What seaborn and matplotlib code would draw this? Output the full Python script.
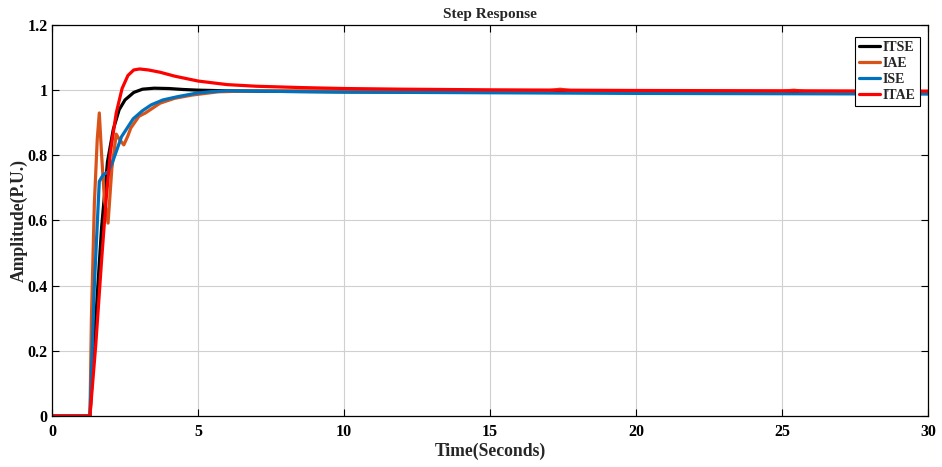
import pandas as pd
import seaborn as sns
import matplotlib.pyplot as plt

# --- Step response data ---
methods = ["ITSE", "IAE", "ISE", "ITAE"]
colors = ["#000000", "#D95319", "#0072BD", "#FF0000"]

t_itse = [0, 1.3, 1.5, 1.7, 1.9, 2.1, 2.3, 2.5, 2.8, 3.1, 3.5, 4.0, 4.5, 5.0, 6.0, 8, 10, 15, 20, 25, 30]
y_itse = [0, 0, 0.30, 0.58, 0.78, 0.88, 0.94, 0.97, 0.993, 1.003, 1.006, 1.005, 1.002, 1.0, 0.998,
          0.996, 0.995, 0.994, 0.993, 0.993, 0.993]

t_iae = [0, 1.3, 1.35, 1.45, 1.55, 1.62, 1.70, 1.80, 1.92, 2.05, 2.2, 2.3, 2.46, 2.6, 2.7, 2.98, 3.2,
         3.7, 4.2, 4.8, 5.7, 7, 10, 15, 17.0, 17.4, 17.8, 20, 25, 25.4, 25.8, 30]
y_iae = [0, 0, 0.30, 0.65, 0.85, 0.93, 0.80, 0.66, 0.592, 0.76, 0.865, 0.85, 0.832, 0.86, 0.884, 0.92,
         0.93, 0.96, 0.975, 0.985, 0.995, 0.998, 0.998, 0.998, 0.998, 1.003, 0.998, 0.997, 0.996, 1.0,
         0.996, 0.995]

t_ise = [0, 1.3, 1.45, 1.62, 1.75, 1.93, 2.1, 2.38, 2.78, 3.1, 3.4, 3.8, 4.3, 4.9, 5.4, 6.0, 8, 10,
         15, 20, 25, 30]
y_ise = [0, 0, 0.40, 0.72, 0.74, 0.75, 0.786, 0.857, 0.912, 0.937, 0.955, 0.97, 0.98, 0.99, 0.995,
         0.998, 0.996, 0.994, 0.992, 0.99, 0.989, 0.988]

t_itae = [0, 1.3, 1.5, 1.7, 1.85, 2.0, 2.2, 2.4, 2.6, 2.8, 3.0, 3.3, 3.7, 4.2, 5.0, 6.0, 7.0, 8.5, 10,
          12, 15, 20, 25, 30]
y_itae = [0, 0, 0.22, 0.48, 0.66, 0.81, 0.93, 1.005, 1.045, 1.062, 1.065, 1.062, 1.055, 1.043, 1.028,
          1.017, 1.012, 1.008, 1.005, 1.003, 1.001, 0.999, 0.998, 0.997]

x_ticks = [0, 5, 10, 15, 20, 25, 30]
y_ticks = [0, 0.2, 0.4, 0.6, 0.8, 1.0, 1.2]
y_tick_labels = ["0", "0.2", "0.4", "0.6", "0.8", "1", "1.2"]

# long-form table for seaborn
frames = []
for name, t, y in zip(methods, [t_itse, t_iae, t_ise, t_itae], [y_itse, y_iae, y_ise, y_itae]):
    frames.append(pd.DataFrame({"t": t, "amp": y, "method": name}))
df = pd.concat(frames, ignore_index=True)

sns.set_style("ticks")
plt.rcParams["font.family"] = ["Liberation Serif", "DejaVu Serif"]
plt.rcParams["font.weight"] = "bold"

fig = plt.figure(figsize=(9.42, 4.67), dpi=100)
ax = fig.add_axes([0.0552, 0.1092, 0.9299, 0.8373])

sns.lineplot(data=df, x="t", y="amp", hue="method", hue_order=methods,
             palette=dict(zip(methods, colors)), sort=False, estimator=None,
             linewidth=2.3, ax=ax)

ax.set_xlim(0, 30)
ax.set_ylim(0, 1.2)
ax.set_xticks(x_ticks)
ax.set_xticklabels([str(v) for v in x_ticks])
ax.set_yticks(y_ticks)
ax.set_yticklabels(y_tick_labels)
ax.grid(True, color="#d0d0d0", linewidth=0.8)
ax.set_axisbelow(True)
ax.tick_params(direction="in", top=True, right=True, length=5, width=0.8,
               labelsize=11.5, colors="black", pad=3)
ax.tick_params(axis="x", pad=6)
for lbl in ax.get_xticklabels() + ax.get_yticklabels():
    lbl.set_fontweight("bold")
for sp in ax.spines.values():
    sp.set_visible(True)
    sp.set_color("black")
    sp.set_linewidth(0.9)

ax.set_title("Step Response", fontsize=11, fontweight="bold", pad=5)
ax.set_xlabel("Time(Seconds)", fontsize=12.7, fontweight="bold", labelpad=2)
ax.set_ylabel("Amplitude(P.U.)", fontsize=12.7, fontweight="bold", labelpad=0)

leg = ax.legend(loc="upper right", bbox_to_anchor=(0.991, 0.97), borderaxespad=0,
                fancybox=False, framealpha=1, edgecolor="black",
                prop={"weight": "bold", "size": 10},
                handlelength=1.5, borderpad=0.3, labelspacing=0.22, handletextpad=0.2)
leg.get_frame().set_linewidth(0.8)

fig.savefig("out.png", dpi=100)
